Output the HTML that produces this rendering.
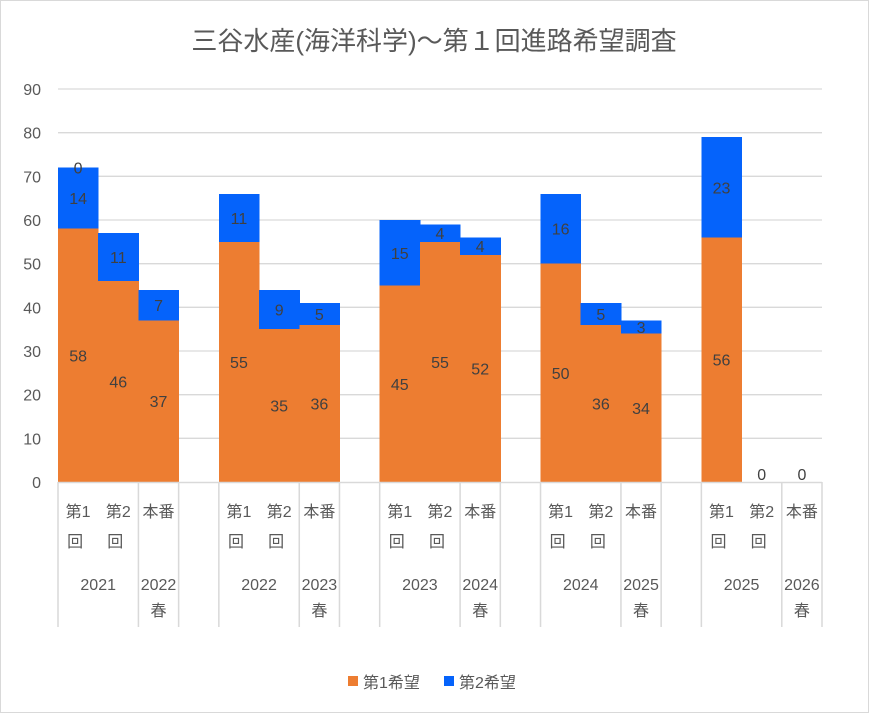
<!DOCTYPE html>
<html><head><meta charset="utf-8"><style>
body{margin:0;background:#fff}
svg text{font-family:"Liberation Sans","Noto Sans CJK JP",sans-serif}
</style></head><body>
<svg id="c" width="869" height="713" xmlns="http://www.w3.org/2000/svg">
<rect x="0.5" y="0.5" width="868" height="712" fill="#fff" stroke="#d9d9d9"/>
<text x="434" y="50" font-size="26" fill="#595959" text-anchor="middle">三谷水産(海洋科学)～第１回進路希望調査</text>
<g id="grid"></g><g id="bars" shape-rendering="crispEdges"></g><g id="labels"></g><g id="axis"></g>
<g>
<rect x="348" y="676" width="10" height="10" fill="#ed7d31"/>
<text x="363" y="688" font-size="16" fill="#595959">第1希望</text>
<rect x="444" y="676" width="10" height="10" fill="#0563fb"/>
<text x="459" y="688" font-size="16" fill="#595959">第2希望</text>
</g>
</svg>
<script>
const groups=["2021","2022","2023","2024","2025"];
const springs=["2022\n春","2023\n春","2024\n春","2025\n春","2026\n春"];
const first=[58,46,37,55,35,36,45,55,52,50,36,34,56,0,0];
const second=[14,11,7,11,9,5,15,4,4,16,5,3,23,0,0];
const yTicks=[0,10,20,30,40,50,60,70,80,90];
const NS="http://www.w3.org/2000/svg";
const X0=58,X1=822,Y0=482,Y90=89,slot=(X1-X0)/19;
const y=v=>Y0-(v/90)*(Y0-Y90);
const sx=i=>X0+(Math.floor(i/3)*4+i%3)*slot;
function mk(tag,attrs,parent,txt){const e=document.createElementNS(NS,tag);for(const k in attrs)e.setAttribute(k,attrs[k]);if(txt!==undefined)e.textContent=txt;document.getElementById(parent).appendChild(e);return e;}
yTicks.forEach(t=>{
 if(t>0){const l=mk('line',{x1:X0,x2:X1,y1:y(t),y2:y(t),stroke:'#d9d9d9','stroke-width':1.3},'grid');
 
 }
 const tx=mk('text',{x:41,y:y(t)+6,'font-size':16,fill:'#595959','text-anchor':'end'},'axis',String(t));
 
 
});
const base=mk('line',{x1:X0,x2:X1,y1:Y0+0.5,y2:Y0+0.5,stroke:'#d9d9d9','stroke-width':1.5},'axis');


first.forEach((v,i)=>{
 const x=sx(i),w=slot+0.5;
 const r1=mk('rect',{x:x,y:y(v),width:w,height:Y0-y(v),fill:'#ed7d31'},'bars');
 
 
 const s=second[i];
 const r2=mk('rect',{x:x,y:y(v+s),width:w,height:y(v)-y(v+s),fill:'#0563fb'},'bars');
 
 
 const cx=x+slot/2;
 if(v>0){const t=mk('text',{x:cx,y:y(v/2)+6,'font-size':16,fill:'#404040','text-anchor':'middle'},'labels',String(v));
 
 }
 const ty=(v+s>0)?y(v+s/2)+6:Y0-2;
 const t2=mk('text',{x:cx,y:ty,'font-size':16,fill:'#404040','text-anchor':'middle'},'labels',String(s));
 
 
});
const z=mk('text',{x:sx(0)+slot/2,y:y(first[0]+second[0])+6,'font-size':16,fill:'#404040','text-anchor':'middle'},'labels','0');


groups.forEach((g,gi)=>{
 const x=sx(gi*3);
 [x,x+2*slot,x+3*slot].forEach((lx,k)=>{
  const l=mk('line',{x1:lx,x2:lx,y1:Y0,y2:627,stroke:'#d9d9d9','stroke-width':1.5},'axis');
  
  
 });
 [['第1','回'],['第2','回'],['本番','']].forEach((p,k)=>{
  const cx=x+slot*k+slot/2;
  const a=mk('text',{x:cx,y:517,'font-size':16,fill:'#595959','text-anchor':'middle'},'axis',p[0]);
  
  
  if(p[1]){const b=mk('text',{x:cx-3,y:547,'font-size':16,fill:'#595959','text-anchor':'middle'},'axis',p[1]);
  
  }
 });
 const gt=mk('text',{x:x+slot,y:590,'font-size':16,fill:'#595959','text-anchor':'middle'},'axis',g);
 
 
 const sp=springs[gi].split('\n');
 const s1=mk('text',{x:x+2.5*slot,y:590,'font-size':16,fill:'#595959','text-anchor':'middle'},'axis',sp[0]);
 
 
 const s2=mk('text',{x:x+2.5*slot,y:616,'font-size':16,fill:'#595959','text-anchor':'middle'},'axis',sp[1]);
 
 
});
</script>
</body></html>
